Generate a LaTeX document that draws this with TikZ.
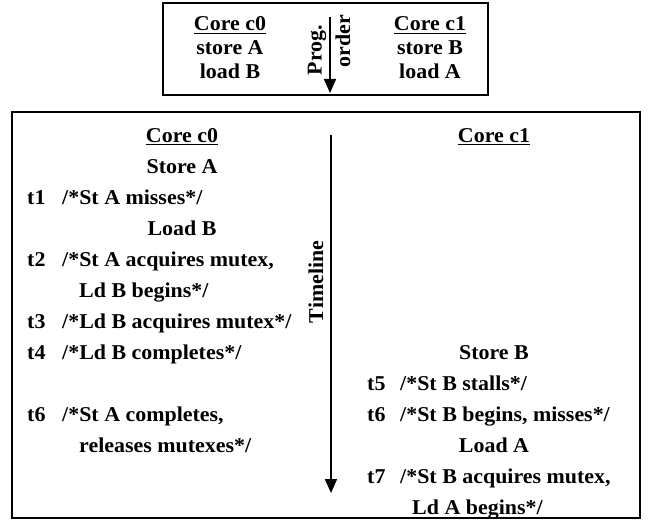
\documentclass[tikz,border=0pt]{standalone}
\usepackage{fontspec}
\setmainfont{Liberation Serif}[FakeStretch=1.04]
\usetikzlibrary{arrows.meta}

\begin{document}
\begin{tikzpicture}[x=0.3mm, y=-0.3mm, >={Triangle[width=3.6mm,length=4.2mm]},
  every node/.style={inner sep=0pt, font=\fontsize{18}{21}\selectfont\bfseries},
  head/.style={anchor=base},
  tick/.style={anchor=base west},
  frame/.style={line width=0.6mm},
  flow/.style={->, line width=0.45mm}]

  \useasboundingbox (0,0) rectangle (648,520);

  % Program order box
  \draw[frame] (163,3) rectangle (488,95);
  \node[head] (pC0) at (230,31) {\underline{Core c0}};
  \node[head] (pSA) at (230,55) {store A};
  \node[head] (pLB) at (230,79) {load B};
  \node[head] (pC1) at (430,31) {\underline{Core c1}};
  \node[head] (pSB) at (430,55) {store B};
  \node[head] (pLA) at (430,79) {load A};
  \node[rotate=90] (pProg)  at (317,50) {Prog.};
  \node[rotate=90] (pOrder) at (343,41) {order};
  \coordinate (pTop) at (330,17);
  \coordinate (pBot) at (330,93);
  \draw[flow] (pTop) -- (pBot);

  % Timeline box
  \draw[frame] (12,112) rectangle (640,518);
  \coordinate (tTop) at (331,135);
  \coordinate (tBot) at (331,493);
  \draw[flow] (tTop) -- (tBot);
  \node[rotate=90] (tLabel) at (316,282) {Timeline};

  % Core c0 column
  \node[head] (aHead) at (182,142) {\underline{Core c0}};
  \node[head] (aSt)   at (182,173) {Store A};
  \node[tick] (aT1)   at (27,204)  {t1};
  \node[tick] (aE1)   at (62,204)  {/*St A misses*/};
  \node[head] (aLd)   at (182,235) {Load B};
  \node[tick] (aT2)   at (27,266)  {t2};
  \node[tick] (aE2)   at (62,266)  {/*St A acquires mutex,};
  \node[tick] (aE2b)  at (79,297)  {Ld B begins*/};
  \node[tick] (aT3)   at (27,328)  {t3};
  \node[tick] (aE3)   at (62,328)  {/*Ld B acquires mutex*/};
  \node[tick] (aT4)   at (27,359)  {t4};
  \node[tick] (aE4)   at (62,359)  {/*Ld B completes*/};
  \node[tick] (aT6)   at (27,421)  {t6};
  \node[tick] (aE6)   at (62,421)  {/*St A completes,};
  \node[tick] (aE6b)  at (79,452)  {releases mutexes*/};

  % Core c1 column
  \node[head] (bHead) at (494,142) {\underline{Core c1}};
  \node[head] (bSt)   at (494,359) {Store B};
  \node[tick] (bT5)   at (367,390) {t5};
  \node[tick] (bE5)   at (400,390) {/*St B stalls*/};
  \node[tick] (bT6)   at (367,421) {t6};
  \node[tick] (bE6)   at (400,421) {/*St B begins, misses*/};
  \node[head] (bLd)   at (494,452) {Load A};
  \node[tick] (bT7)   at (367,483) {t7};
  \node[tick] (bE7)   at (400,483) {/*St B acquires mutex,};
  \node[tick] (bE7b)  at (412,514) {Ld A begins*/};

\end{tikzpicture}
\end{document}
